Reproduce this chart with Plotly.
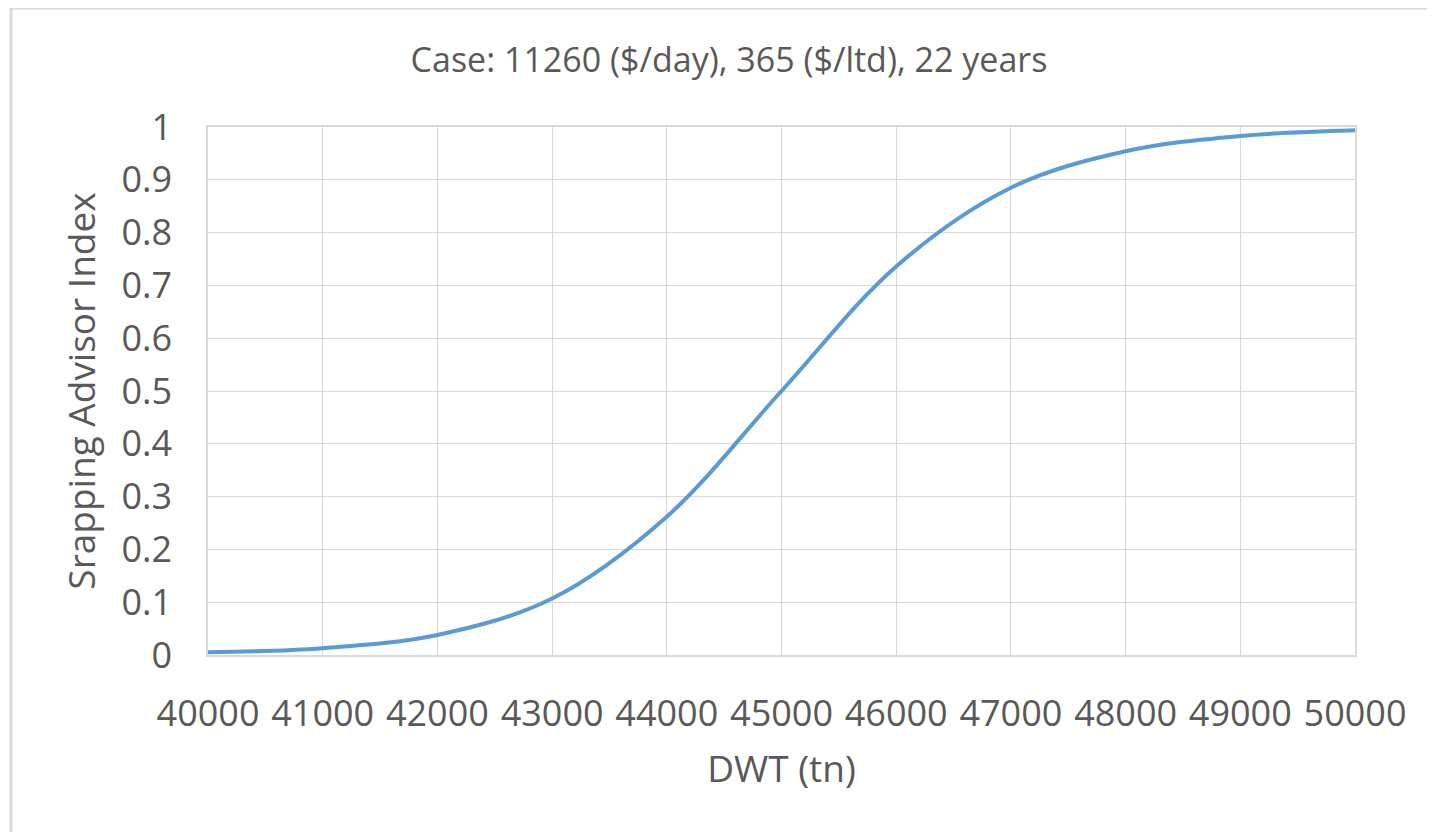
import plotly.graph_objects as go

dwt = [40000, 41000, 42000, 43000, 44000, 45000, 46000, 47000, 48000, 49000, 50000]
index_vals = [0.005, 0.013, 0.038, 0.107, 0.262, 0.5, 0.736, 0.885, 0.954, 0.983, 0.994]
x_ticks = [40000, 41000, 42000, 43000, 44000, 45000, 46000, 47000, 48000, 49000, 50000]
y_ticks = [0, 0.1, 0.2, 0.3, 0.4, 0.5, 0.6, 0.7, 0.8, 0.9, 1]
y_tick_text = ["0", "0.1", "0.2", "0.3", "0.4", "0.5", "0.6", "0.7", "0.8", "0.9", "1"]
title_text = "Case: 11260 ($/day), 365 ($/ltd), 22 years"
x_title = "DWT (tn)"
y_title = "Srapping Advisor Index"

OFF = 8  # page body margin
W, H = 1435 - OFF, 832 - OFF
L, R, T, B = 208 - OFF, 80, 127 - OFF, 177
pw, ph = W - L - R, H - T - B
grey_text = "#595959"
grid = "#d9d9d9"
font_family = "Open Sans, Noto Sans, sans-serif"

fig = go.Figure()
fig.add_trace(go.Scatter(
    x=dwt, y=index_vals, mode="lines",
    line=dict(color="#5b9bd5", width=4, shape="spline", smoothing=1.0),
    hoverinfo="x+y", showlegend=False,
))

def px_x(p):
    return (p - OFF - L) / pw

def px_y(p):
    return (H - B - (p - OFF)) / ph

fig.update_layout(
    width=W, height=H,
    margin=dict(l=L, r=R, t=T, b=B),
    paper_bgcolor="white", plot_bgcolor="white",
    font=dict(family=font_family, color=grey_text),
    title=dict(text=title_text, x=(729 - OFF) / W, xanchor="center", xref="container",
               y=1 - (60 - OFF) / H, yanchor="middle", yref="container",
               font=dict(size=34, color=grey_text, family=font_family)),
    xaxis=dict(range=[40000, 50000], tickvals=x_ticks, ticktext=[str(v) for v in x_ticks],
               showgrid=True, gridcolor=grid, gridwidth=1.3,
               showline=True, linecolor=grid, linewidth=1.5, mirror=True,
               ticks="", ticklabelstandoff=26, zeroline=False,
               tickfont=dict(size=36, color=grey_text),
               title=dict(text=x_title, font=dict(size=37, color=grey_text), standoff=20)),
    yaxis=dict(range=[0, 1], tickvals=y_ticks, ticktext=y_tick_text,
               showgrid=True, gridcolor=grid, gridwidth=1.3,
               showline=True, linecolor=grid, linewidth=1.5, mirror=True,
               ticks="", ticklabelstandoff=27, zeroline=False,
               tickfont=dict(size=36, color=grey_text),
               title=dict(text=y_title, font=dict(size=37, color=grey_text), standoff=14)),
    shapes=[
        dict(type="line", xref="paper", yref="paper",
             x0=px_x(11), x1=px_x(1440), y0=px_y(8), y1=px_y(8),
             line=dict(color="#d9d9d9", width=3)),
        dict(type="line", xref="paper", yref="paper",
             x0=px_x(11), x1=px_x(11), y0=px_y(8), y1=px_y(840),
             line=dict(color="#d9d9d9", width=3)),
    ],
)

fig.write_html("out.html")
